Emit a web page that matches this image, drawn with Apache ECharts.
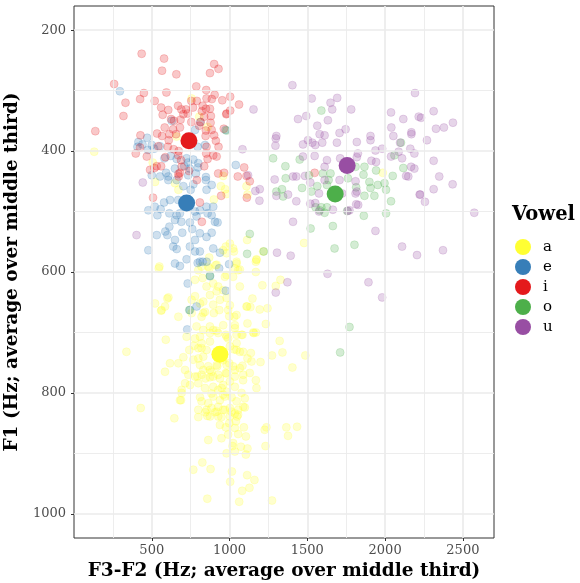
<!DOCTYPE html>
<html>
<head>
<meta charset="utf-8">
<script src="https://cdn.jsdelivr.net/npm/echarts@6/dist/echarts.min.js"></script>
<style>
html, body { margin: 0; padding: 0; background: #ffffff; }
#chart { width: 580px; height: 583px; }
</style>
</head>
<body>
<div id="chart"></div>
<script>
// Vowel categories and their palette (ColorBrewer Set1)
const vowels = ['a', 'e', 'i', 'o', 'u'];
const colors = ['#FFFF33', '#377EB8', '#E41A1C', '#4DAF4A', '#984EA3'];

// Axis ticks and minor grid positions
const xTicks = [500, 1000, 1500, 2000, 2500];
const yTicks = [200, 400, 600, 800, 1000];
const xMinor = [250, 750, 1250, 1750, 2250];
const yMinor = [300, 500, 700, 900];

// Per-vowel means: F3-F2 and F1 (Hz)
const meanF3F2 = [938, 724, 739, 1679, 1756];
const meanF1 = [736, 486, 383, 471, 424];

// Individual tokens: [F3-F2, F1]
const tokensA = [
  [130,401],[756,313],[805,343],[859,360],[660,376],[506,419],[521,451],[649,453],[671,464],[959,441],
  [944,458],[981,471],[899,480],[1109,458],[1115,472],[1985,436],[1479,552],[1002,553],[1023,561],[976,558],
  [549,591],[869,576],[1173,579],[1045,586],[917,588],[820,591],[972,463],[959,564],[981,569],[1028,566],
  [1045,583],[870,594],[981,605],[1023,608],[799,597],[827,610],[778,613],[895,619],[927,624],[852,624],
  [959,630],[1066,624],[607,642],[585,657],[521,652],[563,663],[671,674],[778,640],[756,646],[810,652],
  [831,668],[895,654],[938,646],[981,643],[991,663],[1045,671],[1109,657],[874,638],[917,632],[545,594],
  [863,591],[910,589],[1034,594],[1055,597],[1169,583],[1169,600],[970,608],[1211,622],[1297,623],[1327,613],
  [1147,644],[1194,662],[1244,660],[1233,686],[1115,685],[1152,700],[1169,700],[1322,714],[1340,733],[1487,738],
  [1273,738],[1199,749],[1404,758],[1113,547],[1173,580],[1216,566],[1066,596],[1113,657],[1134,658],[1156,701],
  [1083,704],[337,732],[590,712],[585,765],[617,751],[671,751],[714,762],[735,770],[767,745],[799,743],
  [810,754],[831,762],[863,756],[884,765],[921,756],[981,754],[1023,756],[1066,759],[1115,743],[1137,734],
  [1141,748],[1087,732],[1045,729],[1002,723],[1045,718],[991,710],[874,715],[820,718],[771,722],[820,726],
  [852,729],[810,707],[874,701],[916,697],[976,704],[1034,693],[429,825],[645,842],[692,800],[688,812],
  [746,787],[799,784],[842,792],[895,790],[927,795],[959,787],[1002,781],[1034,790],[1077,800],[1098,809],
  [1045,814],[1013,807],[970,806],[938,812],[895,806],[863,817],[820,814],[799,828],[852,828],[917,831],
  [959,828],[1002,825],[1055,828],[1098,824],[981,798],[810,807],[793,773],[846,776],[895,773],[938,776],
  [976,767],[1034,773],[1087,779],[1130,767],[1169,779],[1173,792],[1049,839],[1002,839],[927,839],[874,839],
  [724,707],[778,710],[1045,704],[1077,704],[703,741],[741,729],[799,726],[831,740],[959,746],[998,751],
  [1030,728],[1066,732],[1083,755],[874,762],[917,754],[1034,762],[981,768],[927,770],[874,774],[820,770],
  [778,773],[714,784],[1088,770],[831,696],[895,696],[927,701],[981,707],[874,690],[788,690],[959,688],
  [1034,688],[820,674],[756,668],[998,673],[1030,674],[842,666],[899,668],[934,663],[1002,655],[560,664],
  [600,644],[831,649],[799,840],[844,832],[857,838],[906,832],[948,840],[1034,834],[1055,836],[938,853],
  [976,857],[998,850],[1034,858],[1041,847],[1092,857],[1055,868],[991,869],[948,875],[1105,872],[1237,857],
  [1226,861],[1365,857],[1434,856],[1376,871],[863,878],[1023,883],[1019,888],[1073,889],[1115,892],[1034,897],
  [1105,902],[981,900],[1231,888],[825,915],[767,927],[878,926],[1015,930],[1004,947],[1113,936],[1160,944],
  [1128,957],[1081,962],[857,975],[1062,980],[1273,978],[949,792],[884,801],[959,803],[1088,823],[970,828],
  [1013,831],[692,795],[681,812],[884,825],[927,823]
];

const tokensE = [
  [295,301],[414,385],[470,378],[500,390],[440,389],[408,393],[476,398],[515,396],[553,392],[628,350],
  [778,365],[812,352],[842,390],[795,393],[581,412],[622,408],[660,413],[724,412],[733,419],[767,414],
  [799,420],[709,425],[649,429],[745,429],[797,427],[592,436],[553,442],[734,440],[784,437],[848,443],
  [1040,423],[606,442],[500,440],[606,448],[660,448],[848,448],[885,456],[767,455],[703,458],[852,464],
  [750,464],[579,485],[617,481],[670,481],[519,492],[557,496],[478,498],[536,506],[613,503],[660,506],
  [681,503],[649,514],[690,517],[778,500],[809,498],[852,492],[895,492],[859,503],[885,506],[906,517],
  [923,518],[788,508],[745,518],[613,525],[587,533],[532,539],[600,539],[696,535],[760,529],[885,535],
  [852,542],[809,536],[778,547],[649,547],[660,562],[638,558],[745,558],[778,566],[809,566],[478,564],
  [895,561],[938,568],[809,583],[724,579],[852,583],[649,586],[681,590],[933,594],[997,587],[731,619],
  [874,607],[788,657],[745,663],[976,631],[728,695],[795,585],[827,583],[974,365]
];

const tokensI = [
  [435,239],[579,247],[566,267],[658,273],[901,256],[929,264],[874,271],[258,289],[449,304],[425,314],
  [331,320],[318,342],[137,367],[594,303],[786,293],[850,299],[519,317],[754,317],[790,317],[852,313],
  [904,307],[953,316],[1004,310],[1061,323],[886,314],[560,328],[606,332],[669,325],[690,331],[720,331],
  [765,328],[827,325],[848,330],[874,330],[1004,333],[981,338],[570,340],[703,339],[731,338],[822,334],
  [837,343],[880,342],[624,347],[643,350],[685,348],[754,352],[814,352],[878,353],[583,361],[637,364],
  [681,361],[805,358],[848,366],[885,365],[963,363],[534,371],[566,375],[613,372],[656,372],[846,375],
  [901,374],[427,374],[609,382],[912,383],[425,394],[542,392],[603,393],[641,397],[673,400],[852,393],
  [929,393],[850,404],[895,407],[397,404],[587,410],[670,407],[859,413],[917,409],[468,409],[688,415],
  [532,425],[560,425],[692,426],[837,425],[489,431],[517,428],[681,436],[739,433],[965,436],[927,437],
  [673,442],[1053,442],[1094,427],[979,339],[1109,441],[1130,450],[1111,477],[1547,436],[508,477],[790,448],
  [671,438],[946,474],[809,485],[822,517]
];

const tokensO = [
  [1590,333],[1280,412],[1451,414],[1359,425],[1361,445],[1466,461],[1564,458],[1600,437],[1649,437],[1637,448],
  [1761,445],[1810,426],[1867,426],[1861,439],[1942,432],[1899,451],[1906,461],[1953,456],[1996,453],[2006,464],
  [2060,407],[2102,386],[2117,428],[2049,441],[1301,467],[1337,463],[1344,475],[1511,440],[1626,456],[1814,460],
  [1867,474],[1931,474],[1526,467],[1130,537],[1113,570],[1220,566],[1521,528],[1664,524],[1675,561],[1803,555],
  [1771,691],[1711,733],[1553,493],[1590,493],[1611,502],[1626,493],[1756,499],[1863,507],[2006,503],[2038,483],
  [1579,498],[874,606],[981,366],[741,663]
];

const tokensU = [
  [1404,291],[1154,331],[1528,313],[1649,320],[1692,312],[1660,331],[1782,331],[1493,342],[1440,347],[1632,349],
  [1564,358],[1746,364],[1707,370],[1579,372],[1611,374],[1301,375],[1297,379],[1295,391],[1472,389],[1504,382],
  [1532,386],[1551,390],[1596,386],[1690,386],[1818,385],[1906,375],[1906,382],[2038,336],[2117,347],[2192,304],
  [2216,343],[2231,345],[2312,334],[2436,353],[2378,361],[2327,363],[2040,361],[2053,375],[2096,386],[2169,369],
  [2169,372],[2269,382],[1938,399],[1981,396],[1912,416],[1942,418],[2038,409],[2087,401],[2109,412],[2162,396],
  [2188,404],[2167,426],[2188,429],[2312,416],[2135,441],[2149,442],[2348,442],[2434,455],[2312,463],[2226,472],
  [1825,404],[1818,410],[1711,412],[1626,415],[1611,426],[1547,408],[1472,409],[1408,442],[1429,442],[1485,441],
  [1519,452],[1611,448],[1707,448],[1810,450],[1290,447],[1194,463],[1119,440],[1083,397],[1166,466],[1818,467],
  [1575,470],[1664,470],[1724,470],[2256,484],[2573,502],[1938,532],[2109,558],[2205,572],[2372,564],[1408,517],
  [1393,573],[1305,568],[1429,483],[1376,472],[1192,482],[442,452],[402,539],[1814,488],[1760,499],[1664,497],
  [1519,487],[1301,474],[1551,486],[1575,500],[1771,498],[1827,489],[1810,470],[2222,472],[1630,603],[1372,617],
  [1297,634],[1893,617],[1981,642]
];

const tokens = [tokensA, tokensE, tokensI, tokensO, tokensU];

const FONT = 'DejaVu Serif';
const GRID_COLOR = '#ebebeb';

function gridLines() {
  const lines = [];
  const minor = { color: GRID_COLOR, width: 0.9, type: 'solid' };
  const major = { color: GRID_COLOR, width: 1.7, type: 'solid' };
  xMinor.forEach(v => lines.push({ xAxis: v, lineStyle: minor }));
  yMinor.forEach(v => lines.push({ yAxis: v, lineStyle: minor }));
  xTicks.forEach(v => lines.push({ xAxis: v, lineStyle: major }));
  yTicks.forEach(v => lines.push({ yAxis: v, lineStyle: major }));
  return lines;
}

const series = [];

// Means first, so that the legend takes their solid style
vowels.forEach((v, k) => {
  series.push({
    name: v,
    type: 'scatter',
    z: 5,
    symbol: 'circle',
    symbolSize: 17,
    silent: true,
    itemStyle: { color: colors[k], opacity: 1 },
    data: [[meanF3F2[k], meanF1[k]]]
  });
});

// Token clouds
vowels.forEach((v, k) => {
  series.push({
    name: v,
    type: 'scatter',
    z: 3,
    symbol: 'circle',
    symbolSize: 8,
    silent: true,
    itemStyle: { color: colors[k], opacity: 0.24, borderColor: colors[k], borderWidth: 0.8 },
    data: tokens[k]
  });
});

// Panel grid lines
series.push({
  type: 'scatter',
  z: 1,
  silent: true,
  data: [],
  markLine: {
    silent: true,
    symbol: ['none', 'none'],
    label: { show: false },
    animation: false,
    data: gridLines()
  }
});

const plain = v => String(v);

const option = {
  animation: false,
  backgroundColor: '#ffffff',
  title: {
    text: 'Vowel',
    left: 512,
    top: 205,
    padding: 0,
    textStyle: { fontFamily: FONT, fontWeight: 'bold', fontSize: 19.5, color: '#000000' }
  },
  legend: {
    data: vowels,
    orient: 'vertical',
    left: 515,
    top: 239,
    itemWidth: 16,
    itemHeight: 16,
    itemGap: 4,
    icon: 'circle',
    padding: 0,
    itemStyle: { opacity: 1, borderWidth: 0 },
    textStyle: { fontFamily: FONT, fontSize: 15, color: '#000000', lineHeight: 16, padding: [0, 0, 0, 7] }
  },
  grid: {
    left: 74,
    right: 86,
    top: 6,
    bottom: 45,
    outerBoundsMode: 'none',
    containLabel: false,
    show: true,
    backgroundColor: '#ffffff',
    borderColor: '#333333',
    borderWidth: 1
  },
  xAxis: {
    type: 'value',
    min: 0,
    max: 2700,
    name: 'F3-F2 (Hz; average over middle third)',
    nameLocation: 'middle',
    nameGap: 22,
    nameTextStyle: { fontFamily: FONT, fontWeight: 'bold', fontSize: 18.5, color: '#000000' },
    splitLine: { show: false },
    axisLine: { show: false },
    axisTick: { show: true, customValues: xTicks, length: 3, lineStyle: { color: '#333333' } },
    axisLabel: { customValues: xTicks, formatter: plain, fontFamily: FONT, fontSize: 13, color: '#4d4d4d', margin: 6 }
  },
  yAxis: {
    type: 'value',
    inverse: true,
    min: 160,
    max: 1040,
    name: 'F1 (Hz; average over middle third)',
    nameLocation: 'middle',
    nameGap: 45,
    nameRotate: 90,
    nameTextStyle: { fontFamily: FONT, fontWeight: 'bold', fontSize: 18.5, color: '#000000' },
    splitLine: { show: false },
    axisLine: { show: false },
    axisTick: { show: true, customValues: yTicks, length: 3, lineStyle: { color: '#333333' } },
    axisLabel: { customValues: yTicks, formatter: plain, fontFamily: FONT, fontSize: 13, color: '#4d4d4d', margin: 8 }
  },
  series: series
};

const chart = echarts.init(document.getElementById('chart'), null, { renderer: 'canvas' });
chart.setOption(option);
</script>
</body>
</html>
